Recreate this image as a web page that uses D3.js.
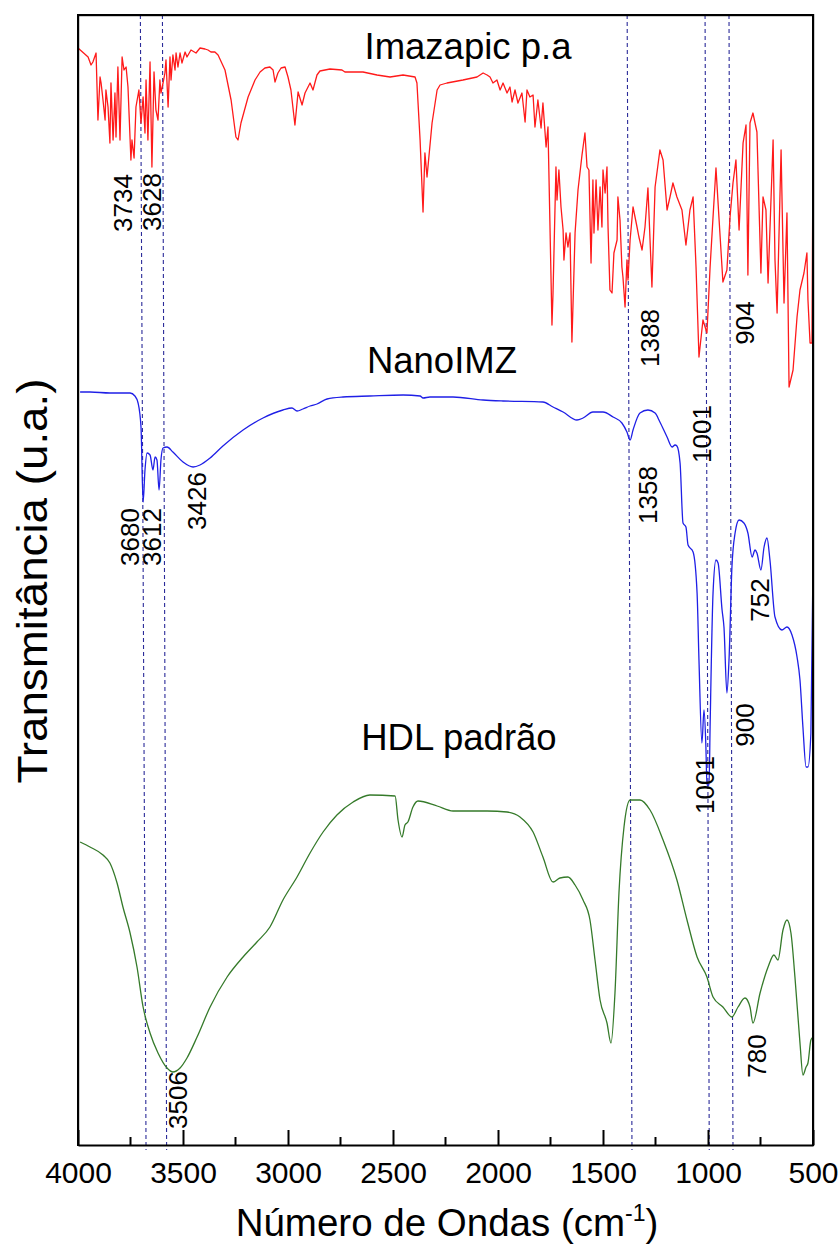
<!DOCTYPE html>
<html><head><meta charset="utf-8">
<script src="https://cdn.jsdelivr.net/npm/d3@7"></script>
<style>body{margin:0;background:#fff} text{font-family:"Liberation Sans",Arial,Helvetica,sans-serif;fill:#000}</style>
</head><body><svg id="c" width="840" height="1255"></svg>
<script>
const xTicks=[4000,3500,3000,2500,2000,1500,1000,500];
const xMinor=[3750,3250,2750,2250,1750,1250,750];
const imazapic=[[4000,109.7],[3952,108.8],[3938,108.0],[3929,108.3],[3914,109.2],[3905,102.5],[3895,106.8],[3890,106.2],[3881,104.5],[3871,102.5],[3867,105.5],[3857,103.8],[3848,100.2],[3843,106.2],[3833,100.5],[3824,105.2],[3819,100.8],[3810,107.8],[3800,100.5],[3790,108.8],[3781,107.5],[3771,107.8],[3762,105.8],[3748,98.5],[3743,100.5],[3733,98.7],[3724,103.8],[3710,105.5],[3700,102.2],[3690,104.8],[3681,101.2],[3676,106.5],[3667,100.5],[3657,108.3],[3648,97.8],[3638,107.3],[3629,103.5],[3619,102.5],[3610,106.5],[3605,105.2],[3595,106.2],[3586,107.2],[3581,108.5],[3571,103.8],[3562,108.8],[3557,106.5],[3548,109.0],[3538,107.5],[3533,109.2],[3524,107.8],[3514,109.2],[3505,108.2],[3490,109.3],[3481,108.8],[3462,109.5],[3438,109.2],[3419,109.7],[3395,109.6],[3381,109.5],[3367,109.3],[3348,109.3],[3333,109.0],[3300,107.5],[3271,104.5],[3248,100.8],[3238,100.5],[3224,102.2],[3190,104.8],[3157,106.5],[3133,107.3],[3110,107.7],[3086,107.8],[3071,107.5],[3062,106.3],[3048,107.2],[3033,107.7],[3014,107.8],[3000,106.8],[2986,105.5],[2967,102.0],[2952,105.3],[2933,104.0],[2919,105.2],[2895,106.2],[2881,105.5],[2862,107.0],[2848,107.4],[2800,107.6],[2743,107.5],[2729,107.3],[2643,107.3],[2576,107.0],[2514,106.8],[2452,107.0],[2395,106.8],[2386,106.2],[2371,100.5],[2357,93.3],[2348,99.2],[2338,96.8],[2314,102.2],[2290,105.5],[2276,106.0],[2243,106.2],[2167,106.5],[2100,106.8],[2071,107.2],[2052,107.0],[2038,106.8],[2024,106.2],[2005,106.5],[1990,105.5],[1976,106.2],[1957,105.2],[1943,105.8],[1933,104.3],[1919,105.5],[1905,104.2],[1886,105.2],[1871,102.3],[1862,105.5],[1848,104.8],[1833,105.0],[1824,101.8],[1810,104.5],[1795,101.7],[1786,104.2],[1771,99.8],[1762,101.8],[1743,82.0],[1738,85.2],[1724,97.8],[1719,94.5],[1710,97.5],[1700,93.8],[1690,91.5],[1686,88.5],[1676,91.2],[1667,89.8],[1657,91.2],[1648,80.3],[1633,91.2],[1619,95.5],[1600,99.0],[1586,101.2],[1576,97.8],[1567,97.5],[1557,88.2],[1548,96.5],[1543,91.2],[1533,96.5],[1524,91.5],[1514,95.8],[1505,91.8],[1500,97.5],[1490,95.2],[1481,97.8],[1476,91.8],[1467,85.5],[1457,85.2],[1448,89.2],[1433,90.5],[1429,94.8],[1419,92.5],[1410,87.8],[1405,86.8],[1395,83.8],[1386,88.5],[1381,86.5],[1371,90.5],[1357,93.8],[1338,91.8],[1329,90.8],[1314,89.5],[1300,91.8],[1286,95.7],[1267,85.8],[1252,95.8],[1229,99.5],[1214,98.5],[1195,93.5],[1181,94.8],[1167,96.2],[1148,94.8],[1124,93.5],[1105,90.0],[1086,93.5],[1071,94.8],[1057,87.8],[1043,78.8],[1024,82.5],[1005,81.2],[990,87.8],[976,92.8],[962,97.7],[948,92.8],[929,86.3],[910,87.5],[895,92.8],[881,96.2],[867,98.5],[852,91.5],[833,100.2],[819,102.0],[810,87.0],[800,102.2],[786,103.2],[767,101.3],[748,87.2],[738,94.8],[724,93.5],[714,86.2],[690,100.5],[681,88.5],[671,83.2],[652,99.5],[638,84.2],[624,93.2],[614,75.8],[595,77.5],[576,82.8],[562,85.5],[543,87.2],[529,89.2],[524,84.5],[514,80.2],[505,80.2],[500,99.2]];
const nanoIMZ=[[3990,75.3],[3943,75.3],[3848,75.2],[3752,75.2],[3729,74.9],[3714,74.2],[3700,71.8],[3690,64.3],[3681,67.5],[3671,69.2],[3657,69.0],[3643,67.5],[3633,68.8],[3624,68.5],[3614,65.5],[3605,68.5],[3595,69.7],[3576,69.8],[3548,69.3],[3500,68.3],[3452,67.8],[3419,68.0],[3371,68.7],[3310,69.9],[3214,71.5],[3119,72.7],[3024,73.5],[2981,73.7],[2957,73.4],[2929,73.6],[2895,73.9],[2862,74.1],[2814,74.6],[2738,74.8],[2610,74.9],[2452,75.0],[2371,74.9],[2357,74.7],[2324,74.8],[2214,74.8],[2071,74.5],[1976,74.4],[1786,74.3],[1738,73.8],[1690,73.3],[1624,72.5],[1595,72.7],[1548,73.3],[1500,73.3],[1452,72.8],[1410,72.2],[1386,71.3],[1371,70.5],[1357,71.5],[1324,73.2],[1286,73.5],[1252,73.2],[1229,72.3],[1195,70.8],[1171,69.8],[1157,70.0],[1148,69.9],[1133,68.2],[1119,62.2],[1105,61.8],[1095,60.0],[1071,59.3],[1052,55.2],[1043,48.5],[1029,40.2],[1019,43.5],[1010,39.8],[1005,36.0],[995,36.0],[990,41.8],[976,55.2],[962,58.5],[952,58.2],[933,53.5],[924,51.8],[910,45.2],[900,48.5],[886,57.8],[871,61.2],[852,62.5],[829,62.2],[810,61.2],[790,58.8],[776,59.5],[767,59.2],[748,57.5],[733,59.8],[719,60.7],[705,58.5],[681,52.8],[648,51.5],[624,51.8],[600,51.0],[576,48.8],[562,46.5],[548,41.8],[533,37.8],[524,37.8],[510,41.2],[500,57.8]];
const hdl=[[3990,30.3],[3943,29.8],[3881,29.0],[3848,28.2],[3814,26.2],[3786,23.8],[3752,21.2],[3719,17.8],[3690,13.8],[3657,11.2],[3619,9.2],[3576,7.7],[3548,7.3],[3514,7.7],[3481,8.7],[3433,10.8],[3371,13.8],[3290,16.8],[3214,18.8],[3148,20.3],[3086,21.8],[3024,24.5],[2957,26.8],[2895,29.2],[2833,31.3],[2767,33.0],[2690,34.3],[2610,35.0],[2490,34.9],[2476,32.5],[2457,30.8],[2443,32.0],[2429,32.3],[2405,33.8],[2381,34.4],[2290,33.9],[2214,33.4],[2052,33.4],[1957,33.3],[1895,32.8],[1833,31.3],[1786,28.8],[1738,26.3],[1705,26.7],[1667,26.8],[1633,26.0],[1595,24.5],[1562,22.5],[1538,18.5],[1514,14.5],[1481,12.2],[1462,10.2],[1443,15.2],[1424,25.2],[1400,31.8],[1371,34.5],[1324,34.5],[1276,33.5],[1214,30.5],[1148,26.5],[1100,22.5],[1052,18.8],[1005,16.8],[976,14.8],[929,13.8],[886,12.8],[857,13.8],[824,14.7],[800,13.8],[786,12.2],[752,15.2],[714,17.8],[686,19.0],[667,18.5],[643,21.5],[624,22.5],[605,21.2],[586,16.8],[562,10.2],[548,7.0],[533,7.8],[524,8.2],[510,10.5],[500,10.8]];
const refLines=[[3703,3676],[3598,3578],[1385,1362],[1014,994],[900,881]];
const seriesNames=["Imazapic p.a","NanoIMZ","HDL padrão"];
const seriesColors=["#ff1a1a","#1f1fe6","#357a2a"];
const nameAnchors=[[2143,108.6],[2267,77.2],[2186,39.5]];
const peakLabels=[["3734",3786,94.2],["3628",3648,94.3],["1388",1276,80.7],["904",824,82.2],["1001",1029,71.1],["3680",3752,60.8],["3612",3648,60.8],["3426",3433,64.4],["1358",1286,65.0],["752",752,54.5],["900",824,42.0],["1001",1014,36.0],["3506",3524,4.5],["780",767,8.9]];

const svg=d3.select("#c");
const L=78,R=813,T=15,B=1145;
const x=d3.scaleLinear().domain([4000,500]).range([L,R]);
const y=d3.scaleLinear().domain([0,113]).range([B,T]);

// reference dashed lines
svg.append("g").selectAll("line").data(refLines).join("line")
  .attr("x1",d=>x(d[0])).attr("x2",d=>x(d[1])).attr("y1",T).attr("y2",B+5)
  .attr("stroke","#2b2b99").attr("stroke-width",1.1).attr("stroke-dasharray","4,3");

const lineLin=d3.line().x(d=>x(d[0])).y(d=>y(d[1]));
const lineSmooth=d3.line().x(d=>x(d[0])).y(d=>y(d[1])).curve(d3.curveMonotoneX);
[imazapic,nanoIMZ,hdl].forEach((s,i)=>{
  svg.append("path").datum(s).attr("d",i===0?lineLin:lineSmooth).attr("fill","none")
    .attr("stroke",seriesColors[i]).attr("stroke-width",1.3).attr("stroke-linejoin","round");
});

// frame drawn as filled bars (top, left, right)
const frame=[[L-1,T-1,R-L+2,2.2],[L-1,T-1,2.2,B-T+2],[R-1,T-1,2.2,B-T+2]];
svg.append("g").selectAll("rect").data(frame).join("rect")
  .attr("x",d=>d[0]).attr("y",d=>d[1]).attr("width",d=>d[2]).attr("height",d=>d[3]).attr("fill","#000");

// x axis
const ax=svg.append("g").attr("transform",`translate(0,${B})`)
  .call(d3.axisBottom(x).tickValues(xTicks).tickSizeInner(-15).tickSizeOuter(0).tickPadding(17).tickFormat(d3.format("d")));
ax.select(".domain").attr("stroke-width",2.2);
ax.selectAll(".tick line").attr("stroke-width",2);
ax.selectAll("text").attr("font-size",30).attr("font-family","'Liberation Sans',Arial,sans-serif").attr("fill","#000");
svg.append("g").selectAll("line").data(xMinor).join("line")
  .attr("x1",d=>x(d)).attr("x2",d=>x(d)).attr("y1",B).attr("y2",B-8).attr("stroke","#000").attr("stroke-width",2);

// series names
svg.append("g").selectAll("text").data(seriesNames).join("text")
  .attr("x",(d,i)=>x(nameAnchors[i][0])).attr("y",(d,i)=>y(nameAnchors[i][1]))
  .attr("text-anchor","middle").attr("font-size",36.5).text(d=>d);

// peak labels
svg.append("g").selectAll("text").data(peakLabels).join("text")
  .attr("transform",d=>`translate(${x(d[1])},${y(d[2])}) rotate(-90)`)
  .attr("text-anchor","middle").attr("dominant-baseline","central")
  .attr("font-size",26).text(d=>d[0]);

// axis titles
const xt=svg.append("text").attr("x",447).attr("y",1236).attr("text-anchor","middle").attr("font-size",38.5);
xt.append("tspan").text("Número de Ondas (cm");
xt.append("tspan").attr("font-size",23).attr("dy",-15).text("-1");
xt.append("tspan").attr("dy",15).text(")");
svg.append("text").attr("transform","translate(47,581) rotate(-90)").attr("text-anchor","middle")
  .attr("font-size",42).attr("textLength",405).attr("lengthAdjust","spacingAndGlyphs").text("Transmitância (u.a.)");
</script></body></html>
